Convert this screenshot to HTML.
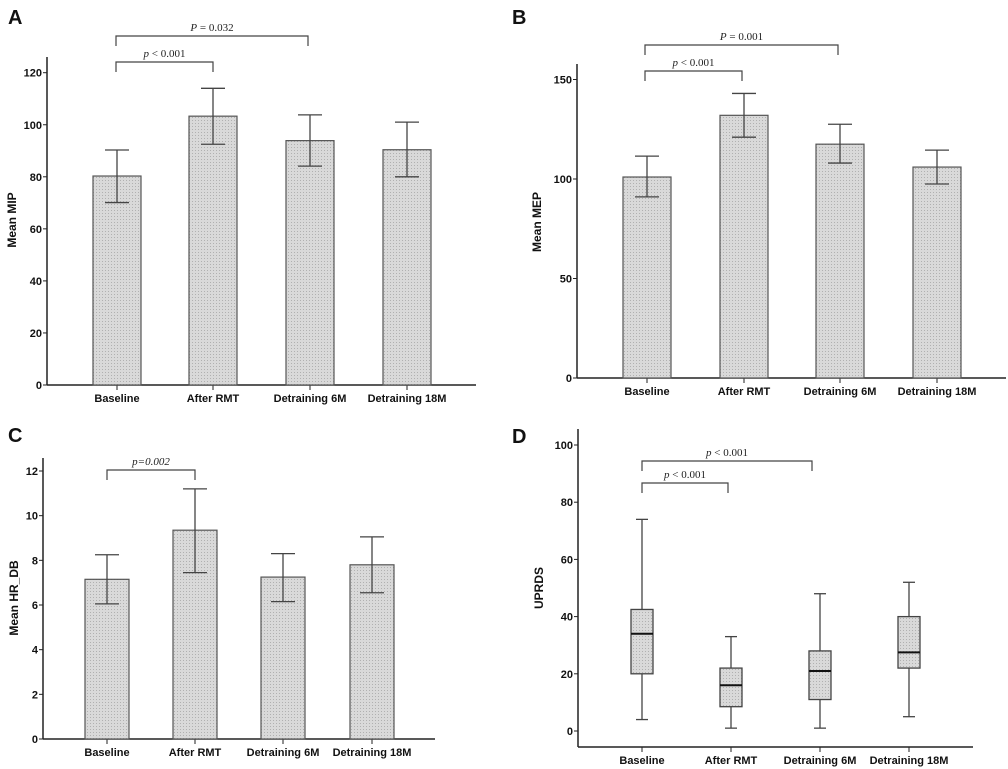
<!DOCTYPE html>
<html><head><meta charset="utf-8"><style>
body{margin:0;background:#fff}
svg{display:block;font-family:"Liberation Sans",sans-serif}
.tk{font-size:11px;font-weight:bold;fill:#111}
.cat{font-size:11px;font-weight:bold;fill:#111}
.yl{font-size:12px;font-weight:bold;fill:#111}
.pl{font-size:20px;font-weight:bold;fill:#111}
.pv{font-family:"Liberation Serif",serif;font-size:11px;fill:#222}
</style></head><body>
<svg id="fig" width="1008" height="769" viewBox="0 0 1008 769">
<defs><pattern id="dots" width="3" height="3" patternUnits="userSpaceOnUse"><rect width="3" height="3" fill="#d9d9d9"/><rect width="1" height="1" fill="#b0b0b0"/></pattern></defs>
</svg>
<script>
const categories=["Baseline","After RMT","Detraining 6M","Detraining 18M"];
const mipMean=[80.3,103.3,93.9,90.4];
const mipLow=[70.1,92.5,84.1,80.0];
const mipHigh=[90.3,114.0,103.8,101.0];
const mipTicks=[0,20,40,60,80,100,120];
const mepMean=[101,132,117.5,106];
const mepLow=[91,121,108,97.5];
const mepHigh=[111.5,143,127.5,114.5];
const mepTicks=[0,50,100,150];
const hrMean=[7.15,9.35,7.25,7.8];
const hrLow=[6.05,7.45,6.15,6.55];
const hrHigh=[8.25,11.2,8.3,9.05];
const hrTicks=[0,2,4,6,8,10,12];
const upMin=[4,1,1,5];
const upQ1=[20,8.5,11,22];
const upMed=[34,16,21,27.5];
const upQ3=[42.5,22,28,40];
const upMax=[74,33,48,52];
const upTicks=[0,20,40,60,80,100];

const svg=document.getElementById('fig');
const NS="http://www.w3.org/2000/svg";
function mk(tag,attrs,parent,text){const e=document.createElementNS(NS,tag);for(const k in attrs)e.setAttribute(k,attrs[k]);if(text!==undefined)e.textContent=text;(parent||svg).appendChild(e);return e;}

function panel(cfg){
  const g=mk('g',{});
  
  
  const y=v=>cfg.y0-(v-cfg.vmin)/(cfg.vmax-cfg.vmin)*(cfg.y0-cfg.yTop);
  const t=mk('text',{x:cfg.lx,y:cfg.ly,class:'pl'},g,cfg.letter);
  
  const ya=mk('line',{x1:cfg.ax,x2:cfg.ax,y1:cfg.axTop,y2:cfg.base,stroke:'#222','stroke-width':1.5},g);
  
  const xa=mk('line',{x1:cfg.ax,x2:cfg.axEnd,y1:cfg.base,y2:cfg.base,stroke:'#222','stroke-width':1.5},g);
  
  cfg.ticks.forEach(v=>{
    const yy=y(v);
    mk('line',{x1:cfg.ax-4,x2:cfg.ax,y1:yy,y2:yy,stroke:'#222'},g);
    const tl=mk('text',{x:cfg.ax-5,y:yy+4,class:'tk','text-anchor':'end'},g,v);
    
  });
  const yt=mk('text',{x:0,y:0,class:'yl','text-anchor':'middle',transform:`translate(${cfg.ylx},${cfg.yly}) rotate(-90)`},g,cfg.ytitle);
  
  categories.forEach((c,i)=>{
    const cx=cfg.cx[i];
    mk('line',{x1:cx,x2:cx,y1:cfg.base,y2:cfg.base+5,stroke:'#222'},g);
    const cl=mk('text',{x:cx,y:cfg.base+17,class:'cat','text-anchor':'middle'},g,c);
    
    if(cfg.mean){
      const b=mk('rect',{x:cx-cfg.hw,y:y(cfg.mean[i]),width:2*cfg.hw,height:cfg.base-y(cfg.mean[i]),fill:'url(#dots)',stroke:'#555','stroke-width':1.2},g);
      
      const e=mk('g',{stroke:'#444','stroke-width':1.3},g);
      
      mk('line',{x1:cx,x2:cx,y1:y(cfg.low[i]),y2:y(cfg.high[i])},e);
      mk('line',{x1:cx-12,x2:cx+12,y1:y(cfg.low[i]),y2:y(cfg.low[i])},e);
      mk('line',{x1:cx-12,x2:cx+12,y1:y(cfg.high[i]),y2:y(cfg.high[i])},e);
    } else {
      const bx=mk('g',{stroke:'#444','stroke-width':1.3},g);
      
      mk('line',{x1:cx,x2:cx,y1:y(upMin[i]),y2:y(upMax[i])},bx);
      mk('line',{x1:cx-6,x2:cx+6,y1:y(upMin[i]),y2:y(upMin[i])},bx);
      mk('line',{x1:cx-6,x2:cx+6,y1:y(upMax[i]),y2:y(upMax[i])},bx);
      mk('rect',{x:cx-11,y:y(upQ3[i]),width:22,height:y(upQ1[i])-y(upQ3[i]),fill:'url(#dots)'},bx);
      mk('line',{x1:cx-11,x2:cx+11,y1:y(upMed[i]),y2:y(upMed[i]),'stroke-width':2,stroke:'#111'},bx);
    }
  });
  cfg.brackets.forEach(br=>{
    const bg=mk('g',{},g);
    
    mk('path',{d:`M${br[0]},${br[2]+10}V${br[2]}H${br[1]}V${br[2]+10}`,fill:'none',stroke:'#444','stroke-width':1.2},bg);
    const tx=mk('text',{x:(br[0]+br[1])/2,y:br[2]-5,class:'pv','text-anchor':'middle'},bg);
    mk('tspan',{'font-style':'italic'},tx,br[3]);
    mk('tspan',{'font-style':br[5]?'italic':'normal'},tx,br[4]);
  });
}
panel({letter:'A',lx:8,ly:24,ax:47,axTop:57,base:385,axEnd:476,y0:385,yTop:72.7,vmin:0,vmax:120,ticks:mipTicks,ytitle:'Mean MIP',ylx:16,yly:220,cx:[117,213,310,407],hw:24,mean:mipMean,low:mipLow,high:mipHigh,
  brackets:[[116,308,36,'P',' = 0.032'],[116,213,62,'p',' < 0.001']]});
panel({letter:'B',lx:512,ly:24,ax:577,axTop:64,base:378,axEnd:1006,y0:378,yTop:79.5,vmin:0,vmax:150,ticks:mepTicks,ytitle:'Mean MEP',ylx:541,yly:222,cx:[647,744,840,937],hw:24,mean:mepMean,low:mepLow,high:mepHigh,
  brackets:[[645,838,45,'P',' = 0.001'],[645,742,71,'p',' < 0.001']]});
panel({letter:'C',lx:8,ly:442,ax:43,axTop:458,base:739,axEnd:435,y0:739,yTop:471,vmin:0,vmax:12,ticks:hrTicks,ytitle:'Mean HR_DB',ylx:18,yly:598,cx:[107,195,283,372],hw:22,mean:hrMean,low:hrLow,high:hrHigh,
  brackets:[[107,195,470,'p','=0.002',true]]});
panel({letter:'D',lx:512,ly:443,ax:578,axTop:429,base:747,axEnd:973,y0:731,yTop:445,vmin:0,vmax:100,ticks:upTicks,ytitle:'UPRDS',ylx:543,yly:588,cx:[642,731,820,909],hw:11,
  brackets:[[642,812,461,'p',' < 0.001'],[642,728,483,'p',' < 0.001']]});
</script>
</body></html>
